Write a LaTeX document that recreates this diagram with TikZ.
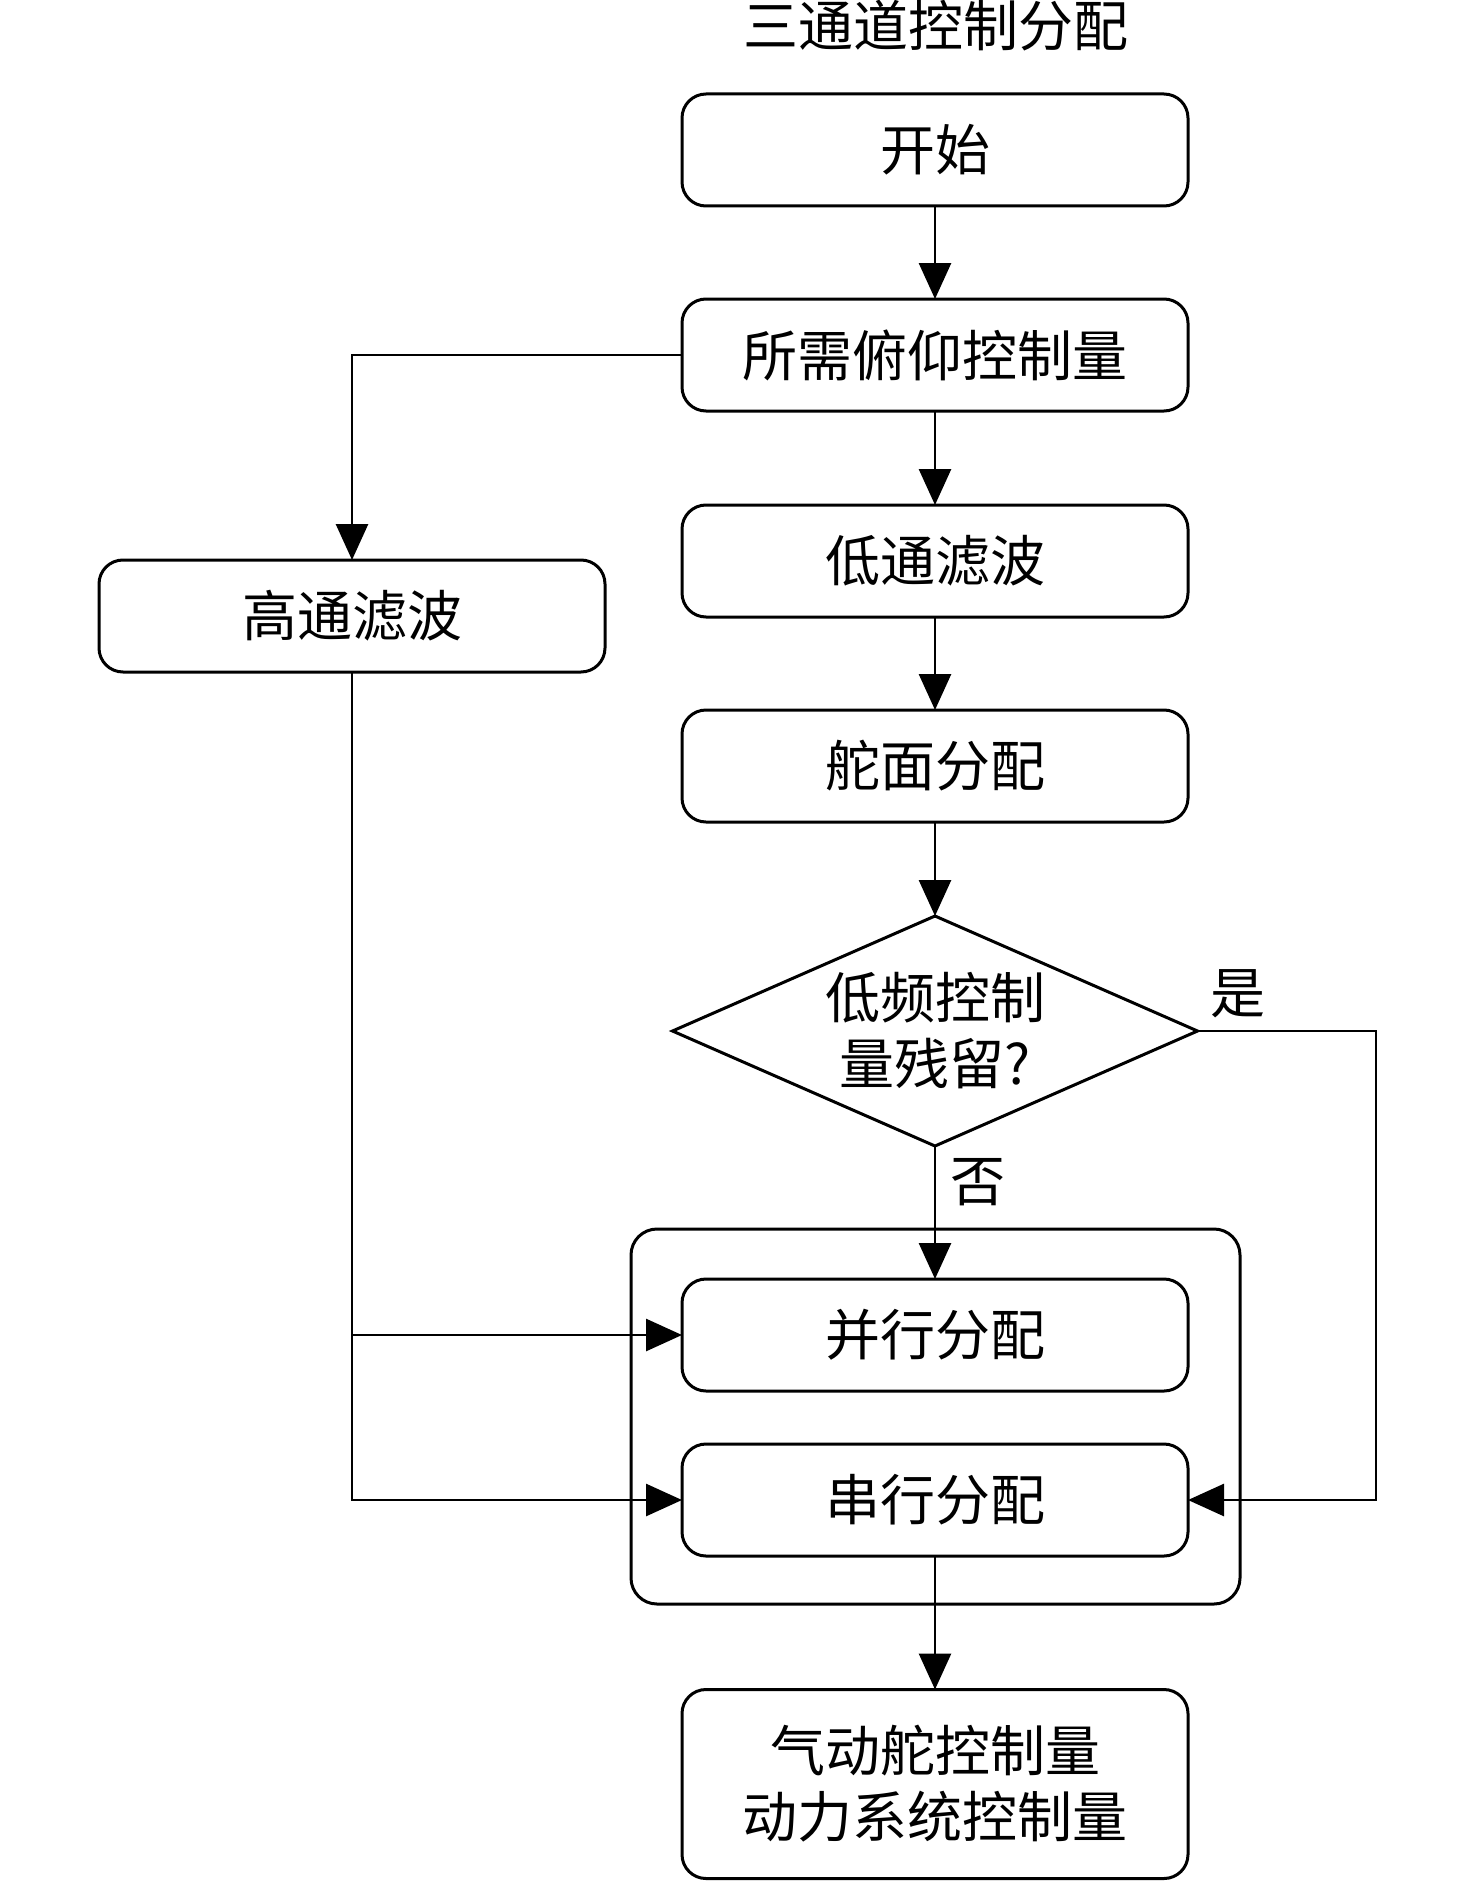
\documentclass[tikz,border=0pt]{standalone}
\usepackage{fontspec}
\setmainfont{Noto Sans CJK SC}
\usetikzlibrary{arrows.meta,shapes.geometric}
\begin{document}
\begin{tikzpicture}[x=1pt,y=-1pt,
  font=\fontsize{55}{66}\selectfont,
  box/.style={draw,line width=3pt,rounded corners=24pt,minimum width=506pt,minimum height=112pt,inner sep=0pt,outer sep=0pt,align=center},
  dec/.style={draw,line width=3pt,shape=diamond,aspect=2.28,minimum width=525pt,minimum height=230pt,inner sep=0pt,outer sep=0pt,align=center},
  arr/.style={line width=2.8pt,-{Triangle[length=36pt,width=32pt]}},
  ln/.style={line width=2.8pt}]
\useasboundingbox (0,0) rectangle (1476,1881);
\node (title) at (936,26) {三通道控制分配};
\node[box] (start) at (935,150) {开始};
\node[box] (req) at (935,355) {所需俯仰控制量};
\node[box] (low) at (935,561) {低通滤波};
\node[box] (high) at (352,616) {高通滤波};
\node[box] (rud) at (935,766) {舵面分配};
\node[dec] (dia) at (935,1031) {低频控制\\量残留?};
\node[draw,line width=3pt,rounded corners=26pt,minimum width=609pt,minimum height=375pt,inner sep=0pt,outer sep=0pt] (grp) at (935.5,1416.5) {};
\node[box] (par) at (935,1335) {并行分配};
\node[box] (ser) at (935,1500) {串行分配};
\node[box,minimum height=189pt] (fin) at (935,1784) {气动舵控制量\\动力系统控制量};
\node (yes) at (1238,994) {是};
\node (no) at (978,1182) {否};
\coordinate (rt) at (1376,1031);
\draw[arr] (start) -- (req);
\draw[arr] (req) -- (low);
\draw[arr] (low) -- (rud);
\draw[arr] (rud) -- (dia);
\draw[arr] (dia.south) -- (par.north);
\draw[arr] (req.west) -| (high.north);
\draw[arr] (high.south) |- (ser.west);
\draw[arr] (high.south |- par.west) -- (par.west);
\draw[arr] (dia.east) -- (rt) |- (ser.east);
\draw[arr] (ser.south) -- (fin.north);
\end{tikzpicture}
\end{document}
